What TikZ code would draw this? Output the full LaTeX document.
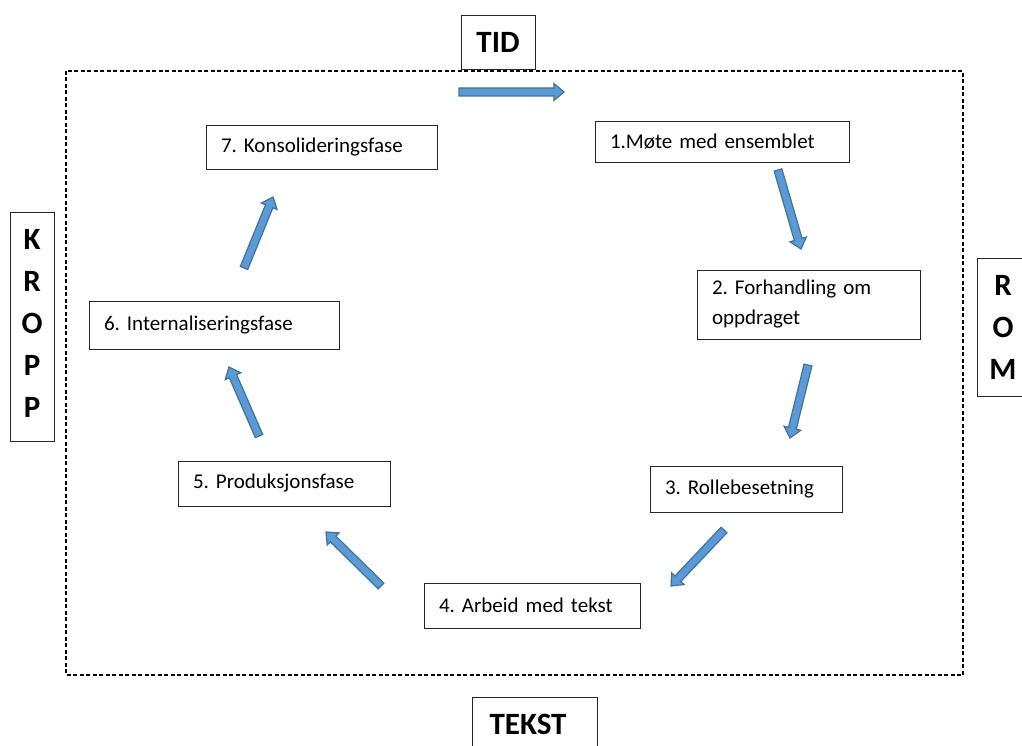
\documentclass[tikz,border=0pt]{standalone}
\usepackage{fontspec}
\setmainfont{Carlito}
\usetikzlibrary{calc}
\frenchspacing
\definecolor{arrfill}{HTML}{5B9BD5}
\definecolor{arrline}{HTML}{41719C}
\tikzset{
  phase/.style={draw=black!85, line width=0.9pt, inner xsep=15pt, inner ysep=0pt, align=left, font=\fontsize{21}{30}\selectfont\frenchspacing, anchor=center},
  dimbox/.style={draw=black!85, line width=0.9pt},
  dimtext/.style={font=\fontsize{31}{42}\selectfont\bfseries, align=center, inner sep=0pt},
  blockarrow/.style={draw=arrline, fill=arrfill, line width=1.2pt, line join=miter},
  frame/.style={draw=black, line width=1.4pt, dash pattern=on 4pt off 2.5pt}
}
\newcommand\blockarr[2]{%
  \coordinate (ba-m) at ($(#2)!10pt!(#1)$);
  \draw[blockarrow] ($(#1)!4pt!90:(#2)$) -- ($(ba-m)!4pt!-90:(#1)$) -- ($(ba-m)!8.5pt!-90:(#1)$) -- (#2) -- ($(ba-m)!8.5pt!90:(#1)$) -- ($(ba-m)!4pt!90:(#1)$) -- ($(#1)!4pt!-90:(#2)$) -- cycle;}
\begin{document}
\begin{tikzpicture}[x=1pt,y=-1pt]
\clip (0,0) rectangle (1022,746);
\fill[white] (0,0) rectangle (1022,746);

% frame
\draw[frame] (66,71) rectangle (963,675);

% side boxes
\node[dimbox, minimum width=74pt, minimum height=54pt, inner sep=0pt] (tidbox) at (498,42) {};
\node[dimtext] (tid) at (498,42) {TID};
\node[dimbox, minimum width=44pt, minimum height=229pt, inner sep=0pt] (kroppbox) at (32,326.5) {};
\node[dimtext] (kropp) at (32,323.5) {K\\R\\O\\P\\P};
\node[dimbox, minimum width=50pt, minimum height=138pt, inner sep=0pt] (rombox) at (1002,327) {};
\node[dimtext] (rom) at (1003,327) {R\\O\\M};
\node[dimbox, minimum width=125pt, minimum height=80pt, inner sep=0pt] (tekstbox) at (534.5,737) {};
\node[dimtext] (tekst) at (528,724) {TEKST};

% phases
\node[phase, text width=224pt, minimum height=41pt] (p1) at (722,141.5) {1.Møte med ensemblet};
\node[phase, text width=193pt, minimum height=69pt] (p2) at (808.5,304.5) {2. Forhandling om\\oppdraget};
\node[phase, text width=162pt, minimum height=46pt] (p3) at (746,489) {3. Rollebesetning};
\node[phase, text width=186pt, minimum height=45pt] (p4) at (532,605.5) {4. Arbeid med tekst};
\node[phase, text width=182pt, minimum height=45pt] (p5) at (284,483.5) {5. Produksjonsfase};
\node[phase, text width=220pt, minimum height=48pt] (p6) at (214,325) {6. Internaliseringsfase};
\node[phase, text width=201pt, minimum height=44pt] (p7) at (321.5,147) {7. Konsolideringsfase};

% arrows
\coordinate (a0s) at (459,92);  \coordinate (a0e) at (564,92);
\coordinate (a1s) at (778,170); \coordinate (a1e) at (801,249);
\coordinate (a2s) at (808,365); \coordinate (a2e) at (790,438);
\coordinate (a3s) at (724,530); \coordinate (a3e) at (671,586);
\coordinate (a4s) at (381,586); \coordinate (a4e) at (326,532);
\coordinate (a5s) at (259,436); \coordinate (a5e) at (229,367);
\coordinate (a6s) at (244,268); \coordinate (a6e) at (273,197);
\blockarr{a0s}{a0e}
\blockarr{a1s}{a1e}
\blockarr{a2s}{a2e}
\blockarr{a3s}{a3e}
\blockarr{a4s}{a4e}
\blockarr{a5s}{a5e}
\blockarr{a6s}{a6e}
\end{tikzpicture}
\end{document}
